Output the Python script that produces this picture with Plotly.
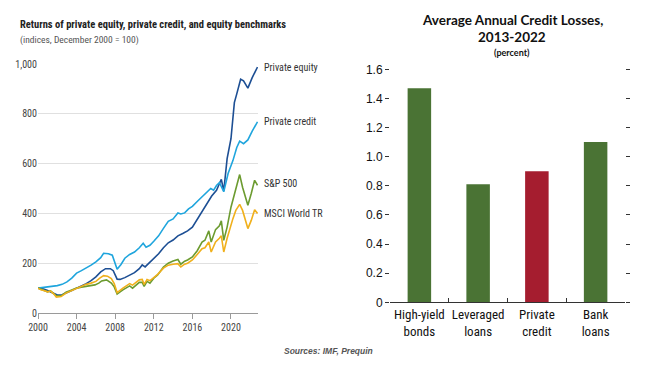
import plotly.graph_objects as go

# ---------- Left panel data (indices, Dec 2000 = 100) ----------
pe_x = [2000.0, 2000.5, 2001.0, 2001.5, 2002.0, 2002.5, 2003.0, 2003.5, 2004.0, 2004.5,
        2005.0, 2005.5, 2006.0, 2006.5, 2007.0, 2007.5, 2007.8, 2008.2, 2008.5, 2009.0,
        2009.5, 2010.0, 2010.5, 2010.8, 2011.1, 2011.5, 2012.0, 2012.5, 2013.0, 2013.5,
        2014.0, 2014.5, 2015.0, 2015.5, 2016.0, 2016.5, 2017.0, 2017.5, 2018.0, 2018.5,
        2019.0, 2019.25, 2019.6, 2020.0, 2020.35, 2020.6, 2021.0, 2021.3, 2021.75, 2022.2,
        2022.75]
pe_y = [100, 97, 90, 80, 72, 73, 80, 90, 100, 108,
        118, 130, 145, 165, 178, 178, 170, 136, 135, 142,
        152, 162, 178, 193, 185, 200, 218, 238, 262, 282,
        293, 310, 319, 330, 345, 375, 408, 440, 470, 493,
        537, 490, 620, 700, 845, 880, 939, 932, 903, 945,
        988]

pc_x = [2000.0, 2000.5, 2001.0, 2001.5, 2002.0, 2002.5, 2003.0, 2003.5, 2004.0, 2004.5,
        2005.0, 2005.5, 2006.0, 2006.5, 2006.8, 2007.3, 2007.7, 2008.0, 2008.2, 2008.6,
        2009.0, 2009.5, 2010.0, 2010.5, 2010.9, 2011.2, 2011.6, 2012.0, 2012.5, 2013.0,
        2013.5, 2014.0, 2014.5, 2014.8, 2015.2, 2015.6, 2016.0, 2016.5, 2017.0, 2017.5,
        2017.9, 2018.2, 2018.5, 2018.8, 2019.25, 2019.7, 2020.2, 2020.6, 2020.9, 2021.3,
        2021.75, 2022.2, 2022.75]
pc_y = [100, 102, 104, 106, 110, 115, 125, 140, 160, 170,
        180, 192, 205, 222, 240, 238, 232, 195, 176, 195,
        220, 235, 245, 262, 280, 264, 272, 288, 310, 340,
        368, 378, 402, 398, 402, 418, 428, 448, 468, 485,
        500, 493, 512, 524, 487, 560, 612, 665, 690, 680,
        695, 730, 768]

sp_x = [2000.0, 2000.3, 2000.6, 2001.0, 2001.3, 2001.6, 2001.9, 2002.4, 2002.9, 2003.5,
        2004.0, 2004.5, 2005.0, 2005.5, 2005.9, 2006.3, 2006.6, 2007.1, 2007.6, 2007.9,
        2008.2, 2008.8, 2009.5, 2009.8, 2010.5, 2010.8, 2011.0, 2011.3, 2011.6, 2012.0,
        2012.4, 2013.0, 2013.5, 2014.0, 2014.5, 2014.8, 2015.2, 2015.5, 2016.0, 2016.5,
        2017.0, 2017.3, 2017.7, 2017.95, 2018.4, 2018.8, 2019.0, 2019.25, 2019.6, 2020.0,
        2020.5, 2020.9, 2021.2, 2021.75, 2022.1, 2022.45, 2022.75]
sp_y = [100, 95, 93, 85, 89, 80, 69, 69, 83, 92,
        100, 104, 107, 110, 113, 120, 129, 133, 120, 105,
        76, 93, 109, 100, 123, 123, 107, 127, 120, 140,
        153, 185, 200, 209, 215, 196, 208, 213, 225, 250,
        285, 292, 330, 285, 335, 350, 370, 292, 345, 425,
        492, 556, 505, 433, 480, 533, 513]

ms_x = [2000.0, 2000.3, 2000.6, 2001.0, 2001.3, 2001.6, 2001.9, 2002.4, 2002.9, 2003.5,
        2004.0, 2004.5, 2005.0, 2005.5, 2006.0, 2006.4, 2006.8, 2007.2, 2007.6, 2007.9,
        2008.2, 2008.8, 2009.5, 2009.8, 2010.5, 2010.8, 2011.0, 2011.3, 2011.6, 2012.0,
        2012.4, 2013.0, 2013.5, 2014.0, 2014.5, 2014.8, 2015.2, 2015.5, 2016.0, 2016.5,
        2017.0, 2017.3, 2017.7, 2017.95, 2018.4, 2018.8, 2019.0, 2019.25, 2019.6, 2020.2,
        2020.5, 2020.9, 2021.2, 2021.75, 2022.1, 2022.45, 2022.75]
ms_y = [100, 93, 90, 85, 88, 78, 64, 66, 80, 90,
        100, 108, 115, 120, 127, 140, 150, 148, 138, 118,
        82, 100, 118, 112, 133, 135, 115, 135, 130, 142,
        155, 180, 192, 196, 198, 185, 196, 200, 213, 235,
        258, 262, 285, 245, 285, 300, 310, 245, 300, 379,
        412, 436, 412, 339, 372, 415, 400]

series_names = ["Private equity", "Private credit", "S&P 500", "MSCI World TR"]
series_colors = ["#1d4f94", "#1fa5dd", "#6c9b30", "#f0b01c"]
series_x = [pe_x, pc_x, sp_x, ms_x]
series_y = [pe_y, pc_y, sp_y, ms_y]
label_pos = [985, 770, 520, 400]  # label anchor values (in index units)

left_ticks = [0, 200, 400, 600, 800, 1000]
left_ticktext = ["0", "200", "400", "600", "800", "1,000"]
year_ticks = [2000, 2004, 2008, 2012, 2016, 2020]

# ---------- Right panel data ----------
bar_cats = ["High-yield<br>bonds", "Leveraged<br>loans", "Private<br>credit", "Bank<br>loans"]
bar_vals = [1.47, 0.81, 0.90, 1.10]
bar_colors = ["#4a7334", "#4a7334", "#a51d2f", "#4a7334"]
right_ticks = [0, 0.2, 0.4, 0.6, 0.8, 1.0, 1.2, 1.4, 1.6]
right_ticktext = ["0", "0.2", "0.4", "0.6", "0.8", "1.0", "1.2", "1.4", "1.6"]

NARROW = "Liberation Sans Narrow, Arial Narrow, Roboto Condensed, sans-serif"
W, H = 649, 370

fig = go.Figure()
for nm, col, xs, ys in zip(series_names, series_colors, series_x, series_y):
    fig.add_trace(go.Scatter(x=xs, y=ys, mode="lines", name=nm,
                             line=dict(color=col, width=1.6),
                             xaxis="x", yaxis="y", showlegend=False, cliponaxis=False))

fig.add_trace(go.Bar(x=bar_cats, y=bar_vals, marker=dict(color=bar_colors, line=dict(width=0)),
                     width=0.4, xaxis="x2", yaxis="y2", showlegend=False))

fig.update_layout(
    width=W, height=H,
    margin=dict(l=0, r=0, t=0, b=0, autoexpand=False),
    paper_bgcolor="white", plot_bgcolor="white",
    xaxis=dict(domain=[38 / W, 258 / W], range=[2000, 2022.8],
               tickvals=year_ticks, ticks="outside", ticklen=5, tickcolor="#9a9a9a",
               showline=True, linecolor="#9a9a9a", linewidth=1, showgrid=False, zeroline=False,
               automargin=False, tickangle=0,
               tickfont=dict(family=NARROW, size=10, color="#444"), anchor="y"),
    yaxis=dict(domain=[1 - 313 / H, 1 - 64 / H], range=[0, 1000],
               tickvals=left_ticks, ticktext=left_ticktext, ticks="",
               showgrid=True, gridcolor="#e0e0e0", gridwidth=1, zeroline=False, showline=False,
               automargin=False,
               tickfont=dict(family=NARROW, size=10, color="#444"), anchor="x"),
    xaxis2=dict(domain=[390 / W, 625 / W], type="category",
                ticks="inside", tickson="boundaries", ticklen=4, tickcolor="#333",
                showline=True, linecolor="#333", linewidth=1, showgrid=False, zeroline=False,
                automargin=False, tickangle=0,
                tickfont=dict(family=NARROW, size=13, color="#111"), anchor="y2"),
    yaxis2=dict(domain=[1 - 302.3 / H, 1 - 69.3 / H], range=[0, 1.6],
                tickvals=right_ticks, ticktext=right_ticktext,
                ticks="outside", ticklen=4, tickcolor="#333", mirror="ticks",
                showline=False, showgrid=False, zeroline=False, automargin=False,
                tickfont=dict(family="Liberation Sans, Arial, sans-serif", size=12, color="#111"),
                anchor="x2"),
    bargap=0.6,
)

ann = []
# left titles
ann.append(dict(text="<b>Returns of private equity, private credit, and equity benchmarks</b>",
                x=18 / W, y=1 - 24 / H, xref="paper", yref="paper", xanchor="left", yanchor="middle",
                showarrow=False, font=dict(family=NARROW, size=10.5, color="#222")))
ann.append(dict(text="(indices, December 2000 = 100)",
                x=18 / W, y=1 - 40 / H, xref="paper", yref="paper", xanchor="left", yanchor="middle",
                showarrow=False, font=dict(family=NARROW, size=9.5, color="#555")))
# series labels
for nm, v in zip(series_names, label_pos):
    ann.append(dict(text=nm, x=262 / W, y=v, xref="paper", yref="y", xanchor="left",
                    yanchor="middle", showarrow=False,
                    font=dict(family=NARROW, size=10, color="#333")))
# right titles
ann.append(dict(text="<b>Average Annual Credit Losses,</b>", x=512 / W, y=1 - 20 / H,
                xref="paper", yref="paper", xanchor="center", yanchor="middle", showarrow=False,
                font=dict(family="Lato, sans-serif", size=13.5, color="#111")))
ann.append(dict(text="<b>2013-2022</b>", x=512 / W, y=1 - 37 / H,
                xref="paper", yref="paper", xanchor="center", yanchor="middle", showarrow=False,
                font=dict(family="Lato, sans-serif", size=13.5, color="#111")))
ann.append(dict(text="<b>(percent)</b>", x=512 / W, y=1 - 52 / H,
                xref="paper", yref="paper", xanchor="center", yanchor="middle", showarrow=False,
                font=dict(family="Lato, sans-serif", size=9, color="#111")))
# source
ann.append(dict(text="<b><i>Sources: IMF, Prequin</i></b>", x=328 / W, y=1 - 351 / H,
                xref="paper", yref="paper", xanchor="center", yanchor="middle", showarrow=False,
                font=dict(family="Liberation Sans, Arial, sans-serif", size=8.5, color="#555")))
fig.update_layout(annotations=ann)

fig.write_html("out.html", config={"displayModeBar": False},
               post_script="document.body.style.margin='0';document.body.style.overflow='hidden';")
